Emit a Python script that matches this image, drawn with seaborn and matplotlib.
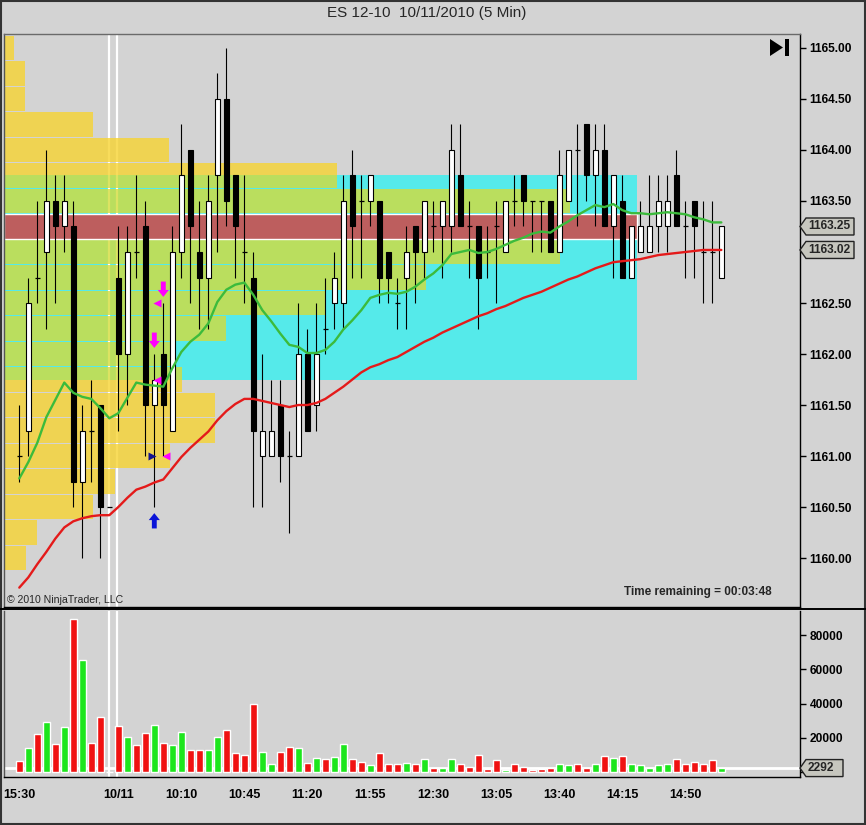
import numpy as np
import pandas as pd
import matplotlib
matplotlib.use("Agg")
import matplotlib.pyplot as plt
import seaborn as sns
from matplotlib.patches import Polygon, Rectangle
from matplotlib.lines import Line2D
from matplotlib.transforms import IdentityTransform

# ---------------- data ----------------
opens = [1161.00, 1161.25, 1162.75, 1163.00, 1163.50, 1163.25, 1163.25, 1160.75, 1161.25, 1161.50,
         1160.50, 1162.75, 1162.00, 1163.00, 1163.25, 1161.50, 1162.00, 1161.25, 1163.00, 1164.00,
         1163.00, 1162.75, 1163.75, 1164.50, 1163.75, 1163.00, 1162.75, 1161.00, 1161.00, 1161.50,
         1161.00, 1161.00, 1162.00, 1161.50, 1162.25, 1162.50, 1162.50, 1163.75, 1163.50, 1163.50,
         1163.50, 1163.00, 1162.50, 1162.75, 1163.25, 1163.00, 1163.25, 1163.25, 1163.25, 1163.75,
         1163.25, 1163.25, 1163.00, 1163.25, 1163.00, 1163.50, 1163.75, 1163.50, 1163.50, 1163.50,
         1163.00, 1163.50, 1164.00, 1164.25, 1163.75, 1164.00, 1163.25, 1163.50, 1162.75, 1163.00,
         1163.00, 1163.25, 1163.25, 1163.75, 1163.25, 1163.50, 1163.00, 1163.00, 1162.75]
highs = [1161.50, 1162.75, 1163.50, 1164.00, 1163.75, 1163.75, 1163.50, 1161.50, 1161.75, 1161.50,
         1160.50, 1163.25, 1163.25, 1163.75, 1163.50, 1162.00, 1162.50, 1163.25, 1164.25, 1164.00,
         1163.50, 1163.75, 1164.75, 1165.00, 1163.75, 1163.75, 1163.00, 1162.00, 1161.75, 1161.75,
         1161.25, 1162.50, 1162.25, 1162.50, 1162.75, 1163.00, 1163.75, 1164.00, 1163.75, 1163.75,
         1163.50, 1163.00, 1162.75, 1163.25, 1163.25, 1163.50, 1163.50, 1163.50, 1164.25, 1164.25,
         1163.50, 1163.25, 1163.25, 1163.50, 1163.50, 1163.75, 1163.75, 1163.50, 1163.50, 1163.50,
         1164.00, 1164.00, 1164.25, 1164.25, 1164.25, 1164.25, 1163.75, 1163.75, 1163.25, 1163.50,
         1163.75, 1163.75, 1163.75, 1164.00, 1163.50, 1163.50, 1163.50, 1163.50, 1163.25]
lows = [1160.75, 1161.00, 1162.50, 1162.25, 1162.50, 1163.00, 1160.50, 1160.00, 1160.75, 1160.00,
        1160.50, 1161.25, 1161.50, 1162.75, 1161.00, 1160.50, 1161.00, 1161.25, 1162.75, 1162.50,
        1162.25, 1162.25, 1163.00, 1163.25, 1162.75, 1162.50, 1160.50, 1160.50, 1161.00, 1160.75,
        1160.25, 1161.00, 1161.25, 1161.25, 1162.00, 1162.25, 1162.25, 1162.75, 1162.75, 1163.25,
        1162.50, 1162.50, 1162.25, 1162.25, 1162.50, 1162.75, 1163.00, 1162.75, 1163.00, 1163.25,
        1162.75, 1162.25, 1162.75, 1162.50, 1163.00, 1163.25, 1163.25, 1163.00, 1163.00, 1163.00,
        1163.00, 1163.50, 1163.25, 1163.50, 1163.25, 1163.25, 1162.75, 1162.75, 1162.75, 1163.00,
        1163.00, 1163.00, 1163.00, 1163.25, 1162.75, 1162.75, 1162.50, 1162.50, 1162.75]
closes = [1161.00, 1162.50, 1162.75, 1163.50, 1163.25, 1163.50, 1160.75, 1161.25, 1161.25, 1160.50,
          1160.50, 1162.00, 1163.00, 1163.00, 1161.50, 1161.75, 1161.50, 1163.00, 1163.75, 1163.25,
          1162.75, 1163.50, 1164.50, 1163.50, 1163.25, 1163.00, 1161.25, 1161.25, 1161.25, 1161.00,
          1161.00, 1162.00, 1161.25, 1162.00, 1162.25, 1162.75, 1163.50, 1163.25, 1163.50, 1163.75,
          1162.75, 1162.75, 1162.50, 1163.00, 1163.00, 1163.50, 1163.25, 1163.50, 1164.00, 1163.25,
          1163.25, 1162.75, 1163.00, 1163.25, 1163.50, 1163.50, 1163.50, 1163.50, 1163.50, 1163.00,
          1163.75, 1164.00, 1164.00, 1163.75, 1164.00, 1163.25, 1163.75, 1162.75, 1163.25, 1163.25,
          1163.25, 1163.50, 1163.50, 1163.25, 1163.25, 1163.25, 1163.00, 1163.00, 1163.25]
volumes = [6400, 14200, 22400, 29200, 16500, 26400, 89400, 65300, 17100, 32300,
           0, 27000, 20600, 15900, 22900, 27600, 17100, 15900, 23300, 12800,
           12800, 12800, 20600, 24700, 11300, 10100, 39800, 11700, 4900, 11800,
           14800, 14000, 5400, 8200, 7600, 8700, 16500, 7800, 6000, 4100,
           11300, 4900, 4900, 5400, 4900, 7600, 2500, 2500, 7600, 4700,
           3100, 10100, 1900, 7000, 1400, 4700, 3000, 1400, 1900, 2300,
           4700, 4100, 4700, 2300, 4700, 9300, 8200, 9300, 4700, 4100,
           2500, 4100, 4700, 7600, 4700, 5800, 4700, 7000, 2292]
ma_fast = [1160.78, 1160.94, 1161.13, 1161.38, 1161.55, 1161.72, 1161.62, 1161.58, 1161.56, 1161.47,
           1161.37, 1161.42, 1161.57, 1161.72, 1161.70, 1161.69, 1161.68, 1161.86, 1162.02, 1162.12,
           1162.19, 1162.30, 1162.51, 1162.63, 1162.68, 1162.70, 1162.58, 1162.43, 1162.32, 1162.20,
           1162.09, 1162.07, 1162.01, 1162.01, 1162.04, 1162.12, 1162.24, 1162.33, 1162.43, 1162.55,
           1162.58, 1162.60, 1162.59, 1162.61, 1162.66, 1162.73, 1162.79, 1162.87, 1162.98, 1163.00,
           1163.02, 1162.99, 1163.00, 1163.03, 1163.07, 1163.11, 1163.14, 1163.18, 1163.20, 1163.19,
           1163.25, 1163.30, 1163.36, 1163.41, 1163.46, 1163.44, 1163.47, 1163.41, 1163.38, 1163.38,
           1163.37, 1163.38, 1163.39, 1163.38, 1163.37, 1163.34, 1163.32, 1163.29, 1163.29]
ma_slow = [1159.71, 1159.81, 1159.94, 1160.06, 1160.19, 1160.30, 1160.36, 1160.39, 1160.41, 1160.42,
           1160.42, 1160.50, 1160.59, 1160.67, 1160.70, 1160.74, 1160.77, 1160.88, 1160.99, 1161.08,
           1161.16, 1161.24, 1161.35, 1161.44, 1161.51, 1161.56, 1161.56, 1161.54, 1161.52, 1161.50,
           1161.48, 1161.50, 1161.50, 1161.52, 1161.56, 1161.62, 1161.68, 1161.75, 1161.82, 1161.87,
           1161.90, 1161.94, 1161.97, 1162.02, 1162.07, 1162.12, 1162.16, 1162.21, 1162.25, 1162.29,
           1162.33, 1162.37, 1162.40, 1162.44, 1162.47, 1162.51, 1162.55, 1162.58, 1162.61, 1162.65,
           1162.69, 1162.73, 1162.76, 1162.80, 1162.84, 1162.87, 1162.90, 1162.91, 1162.92, 1162.93,
           1162.95, 1162.97, 1162.98, 1162.99, 1163.00, 1163.01, 1163.02, 1163.02, 1163.02]

profile_prices = [1165.00, 1164.75, 1164.50, 1164.25, 1164.00, 1163.75, 1163.50, 1163.25, 1163.00,
                  1162.75, 1162.50, 1162.25, 1162.00, 1161.75, 1161.50, 1161.25, 1161.00, 1160.75,
                  1160.50, 1160.25, 1160.00]
profile_volume = [2100, 4300, 4300, 17800, 33100, 66600, 113200, 126600, 111200,
                  84400, 64200, 44400, 34000, 35600, 42200, 42200, 33200, 22200,
                  17800, 6600, 4400]
value_area_high = 1163.75
value_area_low = 1161.75
poc_price = 1163.25

price_ticks = [1160.00, 1160.50, 1161.00, 1161.50, 1162.00, 1162.50, 1163.00,
               1163.50, 1164.00, 1164.50, 1165.00]
price_tick_labels = ['1160.00', '1160.50', '1161.00', '1161.50', '1162.00', '1162.50', '',
                     '1163.50', '1164.00', '1164.50', '1165.00']
volume_ticks = [0, 20000, 40000, 60000, 80000]
volume_tick_labels = ['', '20000', '40000', '60000', '80000']

tick_slots = [0, 7, 11, 18, 25, 32, 39, 46, 53, 60, 67, 74]
tick_labels = ['15:30', '', '10/11', '10:10', '10:45', '11:20', '11:55', '12:30',
               '13:05', '13:40', '14:15', '14:50']
session_break_slots = [10.0, 10.9]

sell_arrow_slot = [16, 15]
sell_arrow_price = [1162.56, 1162.06]
buy_arrow_slot = [15]
buy_arrow_price = [1160.44]
exit_mark_slot = [15.27, 15.27, 16.3]
exit_mark_price = [1162.50, 1161.75, 1161.00]
entry_mark_slot = [14.7]
entry_mark_price = [1161.00]

last_price_label = '1163.25'
ma_slow_label = '1163.02'
last_volume = 2292

# ---------------- style ----------------
sns.set_style("white")
plt.rcParams['font.family'] = ['Liberation Sans', 'DejaVu Sans']

BG = '#d3d3d3'
W, H, DPI = 866, 825, 100

opens_a = np.array(opens); closes_a = np.array(closes)
highs_a = np.array(highs); lows_a = np.array(lows)
slots = np.arange(len(opens))

fig = plt.figure(figsize=(W / DPI, H / DPI), dpi=DPI, facecolor=BG)


def fbox(x0, y0, x1, y1):
    return [x0 / W, 1 - y1 / H, (x1 - x0) / W, (y1 - y0) / H]


ax = fig.add_axes(fbox(4, 34, 800, 607))
axv = fig.add_axes(fbox(4, 611, 800, 777))
for a in (ax, axv):
    a.set_facecolor(BG)
    a.set_xlim(-1.7, 86.74)

ax.set_ylim(1159.52, 1165.137)
axv.set_ylim(-2920, 94020)

# ---- value area box ----
x_left = -1.7
profile_span = 70.3
ax.add_patch(Rectangle((x_left, value_area_low), profile_span, value_area_high - value_area_low,
                       facecolor='#55eaea', edgecolor='none', zorder=1))

# session break lines
for s in session_break_slots:
    ax.axvline(s, color='white', lw=1.6, zorder=1.5)
    axv.axvline(s, color='white', lw=1.6, zorder=1.5)

# ---- volume profile ----
row_h = 0.25 - 1.0 / 102
maxv = max(profile_volume)
for p, v in zip(profile_prices, profile_volume):
    w = v / maxv * profile_span
    y0, y1 = p - row_h / 2, p + row_h / 2
    if p == poc_price:
        ax.barh((y0 + y1) / 2, profile_span, height=y1 - y0, left=x_left,
                color='#bd5e5e', zorder=2.2)
        continue
    parts = []
    if y0 < value_area_low:
        parts.append((y0, min(y1, value_area_low), '#f7d432'))
    if y1 > value_area_high:
        parts.append((max(y0, value_area_high), y1, '#f7d432'))
    g0, g1 = max(y0, value_area_low), min(y1, value_area_high)
    if g1 > g0:
        parts.append((g0, g1, '#d4dc3b'))
    for a0, a1, col in parts:
        ax.barh((a0 + a1) / 2, w, height=a1 - a0, left=x_left, color=col,
                alpha=0.8, lw=0, zorder=2)

# ---- candles ----
ax.vlines(slots, lows_a, highs_a, color='black', lw=0.8, zorder=3)
up = closes_a > opens_a
dn = closes_a < opens_a
dj = closes_a == opens_a
ax.bar(slots[up], (closes_a - opens_a)[up], bottom=opens_a[up], width=0.55,
       color='white', edgecolor='black', lw=0.8, zorder=3.1)
ax.bar(slots[dn], (opens_a - closes_a)[dn], bottom=closes_a[dn], width=0.55,
       color='black', edgecolor='black', lw=0.8, zorder=3.1)
ax.hlines(closes_a[dj], slots[dj] - 0.3, slots[dj] + 0.3, color='black', lw=0.9, zorder=3.1)

# ---- moving averages ----
sns.lineplot(x=slots, y=ma_fast, ax=ax, color='#3cbb3c', lw=1.7, legend=False, zorder=4)
sns.lineplot(x=slots, y=ma_slow, ax=ax, color='#e41a1a', lw=1.7, legend=False, zorder=4)

# ---- signals ----
for k, p in zip(sell_arrow_slot, sell_arrow_price):
    ax.annotate('', xy=(k, p), xytext=(k, p + 0.15),
                arrowprops=dict(arrowstyle='simple,head_length=0.5,head_width=0.8,tail_width=0.35',
                                fc='#ff00ff', ec='none', shrinkA=0, shrinkB=0), zorder=6)
for k, p in zip(buy_arrow_slot, buy_arrow_price):
    ax.annotate('', xy=(k, p), xytext=(k, p - 0.15),
                arrowprops=dict(arrowstyle='simple,head_length=0.5,head_width=0.8,tail_width=0.35',
                                fc='#0a14d8', ec='none', shrinkA=0, shrinkB=0), zorder=6)
ax.plot(exit_mark_slot, exit_mark_price, ls='none', marker='<', ms=6, color='#ff00ff', mec='none', zorder=6)
ax.plot(entry_mark_slot, entry_mark_price, ls='none', marker='>', ms=6, color='#141490', mec='none', zorder=6)

# ---- volume bars ----
vol_colors = ['#1de61d' if c > o else '#f01212' for o, c in zip(opens, closes)]
axv.axhline(last_volume, color='white', lw=2, zorder=2)
axv.bar(slots, volumes, width=0.74, color=vol_colors, zorder=3)

# ---- axes styling ----
for a in (ax, axv):
    a.yaxis.tick_right()
    for sp in a.spines.values():
        sp.set_color('black')
        sp.set_linewidth(1)
    a.spines['left'].set_color('#555555')
    a.tick_params(axis='y', direction='out', length=4, width=1, pad=3, labelsize=8.6,
                  colors='black', right=True, left=False)

ax.set_yticks(price_ticks)
ax.set_yticklabels(price_tick_labels)
ax.set_xticks([])
ax.spines['top'].set_color('#6a6a6a')

axv.set_yticks(volume_ticks)
axv.set_yticklabels(volume_tick_labels)
axv.spines['top'].set_visible(False)
axv.set_xticks(tick_slots)
axv.set_xticklabels(tick_labels)
axv.tick_params(axis='x', direction='out', length=5, width=1, pad=4, labelsize=9, colors='black')
for lbl in ax.get_yticklabels() + axv.get_yticklabels() + axv.get_xticklabels():
    lbl.set_fontweight('bold')

# ---- separators / frame ----
fig.add_artist(Line2D([0, 1], [1 - 609 / H, 1 - 609 / H], transform=fig.transFigure,
                      color='black', lw=1.4))
fig.add_artist(Rectangle((0.001, 0.001), 0.998, 0.998, transform=fig.transFigure,
                         fill=False, edgecolor='#333333', lw=1.5))

# ---- price tags ----
fig.canvas.draw()


def tag(axis, val, label, x1_px):
    yd = axis.transData.transform((0, val))[1]
    x0 = axis.transAxes.transform((1, 0))[0]
    hh = 8.5
    pts = [(x0, yd), (x0 + 6, yd + hh), (x1_px, yd + hh), (x1_px, yd - hh), (x0 + 6, yd - hh)]
    fig.add_artist(Polygon(pts, closed=True, transform=IdentityTransform(),
                           facecolor='#c6c6be', edgecolor='#222222', lw=1, zorder=10))
    fig.text((x0 + 8) / W, yd / H, label, ha='left', va='center', fontsize=8.6,
             fontweight='bold', zorder=11)


tag(ax, float(last_price_label), last_price_label, 854)
tag(ax, float(ma_slow_label), ma_slow_label, 854)
tag(axv, last_volume, str(last_volume), 843)

# ---- texts ----
fig.text(427 / W, 1 - 13 / H, 'ES 12-10  10/11/2010 (5 Min)', ha='center', va='center', fontsize=11)
fig.text(7 / W, 1 - 600 / H, '\u00a9 2010 NinjaTrader, LLC', ha='left', va='center', fontsize=7.6)
fig.text(772 / W, 1 - 592 / H, 'Time remaining = 00:03:48', ha='right', va='center',
         fontsize=8.5, fontweight='bold')

# go-to-end icon
fig.add_artist(Polygon([(770, H - 39), (770, H - 56), (783, H - 47.5)], closed=True,
                       transform=IdentityTransform(), facecolor='black', edgecolor='none'))
fig.add_artist(Rectangle((785, H - 56), 4, 17, transform=IdentityTransform(),
                         facecolor='black', edgecolor='none'))

fig.savefig('out.png', dpi=DPI, facecolor=BG)
